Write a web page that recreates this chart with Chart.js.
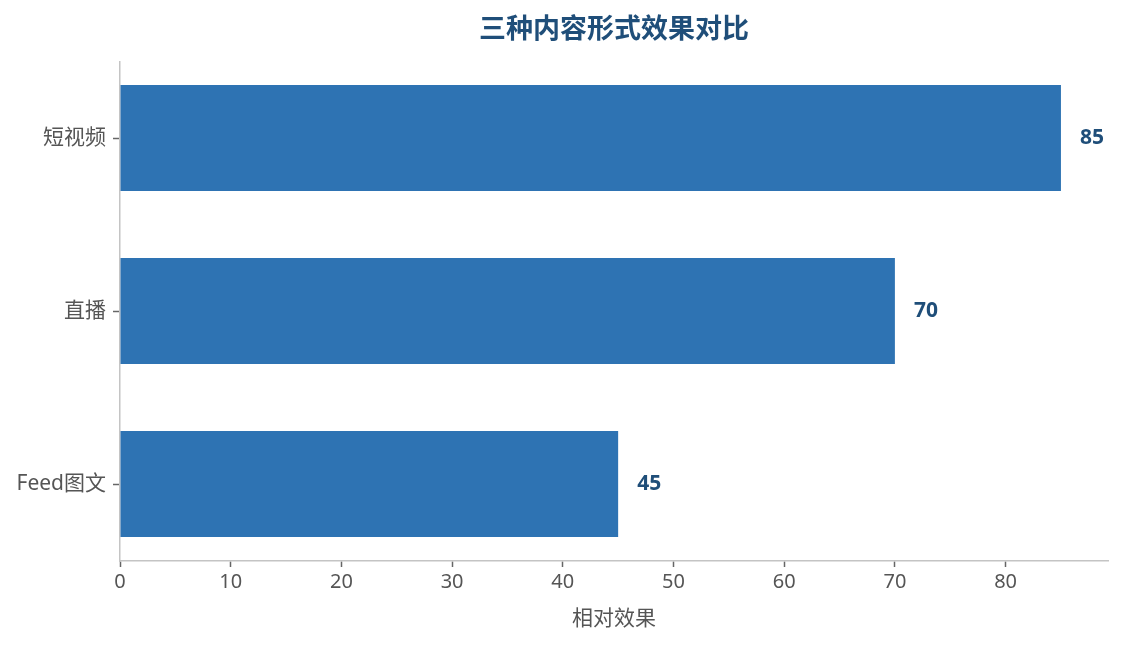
<!DOCTYPE html>
<html>
<head>
<meta charset="utf-8">
<script src="https://cdn.jsdelivr.net/npm/chart.js@4.4.1/dist/chart.umd.min.js"></script>
<style>
html,body{margin:0;padding:0;background:#fff;}
#wrap{width:1124px;height:645px;}
</style>
</head>
<body>
<div id="wrap"><canvas id="c" width="1124" height="645"></canvas></div>
<script>
const categories = ["短视频", "直播", "Feed图文"];
const values = [85, 70, 45];
const xTicks = [0, 10, 20, 30, 40, 50, 60, 70, 80];
const titleText = "三种内容形式效果对比";
const xTitle = "相对效果";

const FONT = "'Noto Sans', 'Noto Sans CJK SC', sans-serif";
const BAR = "#2E73B3";
const DARK = "#1F4E79";

const valueLabels = {
  id: 'valueLabels',
  afterDatasetsDraw(chart) {
    const ctx = chart.ctx;
    const meta = chart.getDatasetMeta(0);
    ctx.save();
    ctx.font = "bold 21px " + FONT;
    ctx.fillStyle = DARK;
    ctx.textAlign = "left";
    ctx.textBaseline = "middle";
    meta.data.forEach((el, i) => {
      ctx.fillText(String(values[i]), el.x + 19, el.y);
    });
    ctx.restore();
  }
};

const areaTitle = {
  id: 'areaTitle',
  afterDraw(chart) {
    const ctx = chart.ctx;
    const a = chart.chartArea;
    ctx.save();
    ctx.font = "bold 27px " + FONT;
    ctx.fillStyle = DARK;
    ctx.textAlign = "center";
    ctx.textBaseline = "middle";
    ctx.fillText(titleText, (a.left + a.right) / 2, 30);
    ctx.restore();
  }
};

new Chart(document.getElementById('c'), {
  type: 'bar',
  data: {
    datasets: [{
      data: values.map((v, i) => ({x: v, y: i})),
      backgroundColor: BAR,
      borderWidth: 0,
      barPercentage: 0.613,
      categoryPercentage: 1.0
    }]
  },
  options: {
    indexAxis: 'y',
    responsive: false,
    animation: false,
    devicePixelRatio: 1,
    layout: { padding: { left: 0, right: 16, top: 62, bottom: 13 } },
    plugins: {
      legend: { display: false },
      tooltip: { enabled: false },
      title: { display: false }
    },
    scales: {
      y: {
        type: 'linear',
        reverse: true,
        offset: false,
        min: -0.44,
        max: 2.445,
        afterBuildTicks(scale) {
          scale.ticks = categories.map((c, i) => ({ value: i }));
        },
        afterFit(scale) { scale.width = 120; },
        ticks: {
          callback: (v) => categories[v],
          color: '#555555',
          font: { family: FONT, size: 21 },
          padding: 7,
          autoSkip: false
        },
        grid: { offset: false, drawOnChartArea: false, tickLength: 7, tickColor: '#666666', tickWidth: 1.5 },
        border: { color: '#C4C4C4', width: 1.5 }
      },
      x: {
        type: 'linear',
        min: 0,
        max: 89.25,
        afterBuildTicks(scale) {
          scale.ticks = xTicks.map(v => ({ value: v }));
        },
        afterFit(scale) { scale.height = 71; },
        ticks: {
          color: '#555555',
          font: { family: FONT, size: 20 },
          padding: 3
        },
        grid: { drawOnChartArea: false, tickLength: 6, tickColor: '#666666', tickWidth: 1.5 },
        border: { color: '#C4C4C4', width: 1.5 },
        title: {
          display: true,
          text: xTitle,
          color: '#555555',
          font: { family: FONT, size: 21 },
          padding: { top: 2, bottom: 0 }
        }
      }
    }
  },
  plugins: [valueLabels, areaTitle]
});
</script>
</body>
</html>
